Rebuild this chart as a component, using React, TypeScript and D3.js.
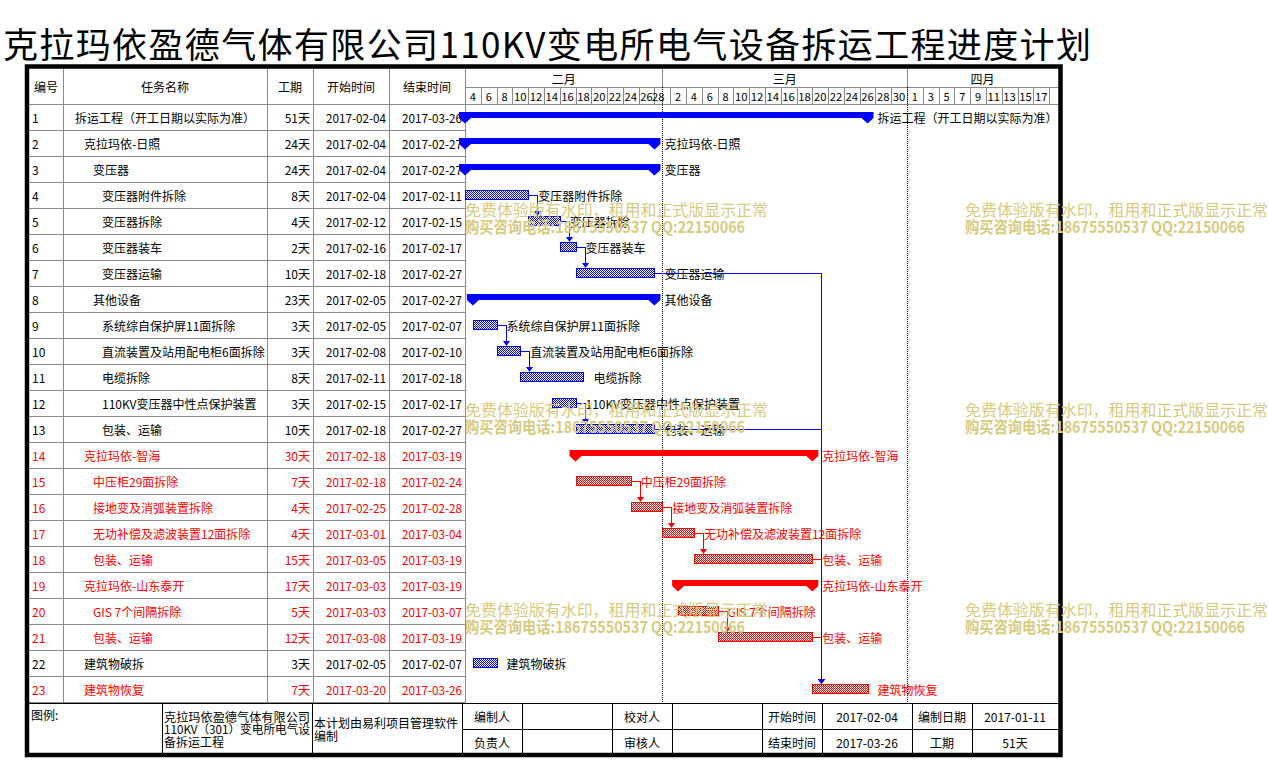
import React from 'react';
import * as d3 from 'd3';

const FONT = '"Noto Sans CJK SC","Noto Sans",sans-serif';

const titleText = '克拉玛依盈德气体有限公司110KV变电所电气设备拆运工程进度计划';
const tableHeaders = ['编号', '任务名称', '工期', '开始时间', '结束时间'];
const monthLabels = ['二月', '三月', '四月'];
const monthStarts = ['2017-02-01', '2017-03-01', '2017-04-01', '2017-05-01'];

const taskIds = [1, 2, 3, 4, 5, 6, 7, 8, 9, 10, 11, 12, 13, 14, 15, 16, 17, 18, 19, 20, 21, 22, 23];
const taskNames = [
  '拆运工程（开工日期以实际为准）',
  '克拉玛依-日照',
  '变压器',
  '变压器附件拆除',
  '变压器拆除',
  '变压器装车',
  '变压器运输',
  '其他设备',
  '系统综自保护屏11面拆除',
  '直流装置及站用配电柜6面拆除',
  '电缆拆除',
  '110KV变压器中性点保护装置',
  '包装、运输',
  '克拉玛依-智海',
  '中压柜29面拆除',
  '接地变及消弧装置拆除',
  '无功补偿及滤波装置12面拆除',
  '包装、运输',
  '克拉玛依-山东泰开',
  'GIS 7个间隔拆除',
  '包装、运输',
  '建筑物破拆',
  '建筑物恢复',
];
const taskLevels = [0, 1, 2, 3, 3, 3, 3, 2, 3, 3, 3, 3, 3, 1, 2, 2, 2, 2, 1, 2, 2, 1, 1];
const taskDurations = [51, 24, 24, 8, 4, 2, 10, 23, 3, 3, 8, 3, 10, 30, 7, 4, 4, 15, 17, 5, 12, 3, 7];
const taskStarts = [
  '2017-02-04', '2017-02-04', '2017-02-04', '2017-02-04', '2017-02-12', '2017-02-16', '2017-02-18',
  '2017-02-05', '2017-02-05', '2017-02-08', '2017-02-11', '2017-02-15', '2017-02-18',
  '2017-02-18', '2017-02-18', '2017-02-25', '2017-03-01', '2017-03-05',
  '2017-03-03', '2017-03-03', '2017-03-08', '2017-02-05', '2017-03-20',
];
const taskEnds = [
  '2017-03-26', '2017-02-27', '2017-02-27', '2017-02-11', '2017-02-15', '2017-02-17', '2017-02-27',
  '2017-02-27', '2017-02-07', '2017-02-10', '2017-02-18', '2017-02-17', '2017-02-27',
  '2017-03-19', '2017-02-24', '2017-02-28', '2017-03-04', '2017-03-19',
  '2017-03-19', '2017-03-07', '2017-03-19', '2017-02-07', '2017-03-26',
];
const summaryIds = [1, 2, 3, 8, 14, 19];
const redIds = [14, 15, 16, 17, 18, 19, 20, 21, 23];
const linkFrom = [4, 5, 6, 9, 10, 12, 15, 16, 17, 20, 18, 21, 7, 13];
const linkTo = [5, 6, 7, 10, 11, 13, 16, 17, 18, 21, 23, 23, 23, 23];

const footerLegend = '图例:';
const footerProject = ['克拉玛依盈德气体有限公司', '110KV（301）变电所电气设', '备拆运工程'];
const footerNote = ['本计划由易利项目管理软件', '编制'];
const footerRow1 = ['编制人', '', '校对人', '', '开始时间', '2017-02-04', '编制日期', '2017-01-11'];
const footerRow2 = ['负责人', '', '审核人', '', '结束时间', '2017-03-26', '工期', '51天'];

const watermark1 = '免费体验版有水印，租用和正式版显示正常';
const watermark2 = '购买咨询电话:18675550537 QQ:22150066';

const BLUE = '#0000FF';
const RED = '#FF0000';
const GRID = '#8a8a8a';
const WM = '#D8CA80';

export default function App() {
  const parse = d3.utcParse('%Y-%m-%d');
  const t0 = parse('2017-02-04') as Date;
  const tEnd = parse('2017-04-20') as Date;
  const x = d3.scaleUtc().domain([t0, tEnd]).range([465, 1057]);
  const rowY = d3.scaleLinear().domain([0, 23]).range([104, 702]);
  const endX = (s: string) => x(d3.utcDay.offset(parse(s) as Date, 1));
  const startX = (s: string) => x(parse(s) as Date);

  const X1 = 1058;
  const colX = [29, 63, 267, 313, 389, 465];

  const ticks = d3.utcDay.range(t0, tEnd, 2);
  const monthDates = monthStarts.map((m) => parse(m) as Date);

  const isRed = (id: number) => redIds.includes(id);
  const col = (id: number) => (isRed(id) ? RED : '#000');
  const barCol = (id: number) => (isRed(id) ? RED : BLUE);

  const textProps = { fontFamily: FONT, fontSize: 12, dominantBaseline: 'central' as const };

  const links = linkFrom.map((a, k) => {
    const b = linkTo[k];
    const px = endX(taskEnds[a - 1]);
    const py = rowY(a - 1) + 13;
    const sx = startX(taskStarts[b - 1]);
    const ax = Math.max(px, sx) + 9;
    const ty = rowY(b - 1) + 8;
    return { a, b, px, py, ax, ty, color: barCol(a) };
  });
  const orderedLinks = [...links.filter((l) => l.color === RED), ...links.filter((l) => l.color !== RED)];

  const footerCols = [462, 522, 612, 672, 762, 822, 912, 972, 1058];

  return (
    <svg width={1268} height={779} style={{ position: 'absolute', left: 0, top: 0, display: 'block', background: '#fff' }}>
      <defs>
        <pattern id="pBlue" width={2} height={2} patternUnits="userSpaceOnUse">
          <rect width={2} height={2} fill="#fff" />
          <rect width={1} height={1} fill={BLUE} />
          <rect x={1} y={1} width={1} height={1} fill={BLUE} />
        </pattern>
        <pattern id="pRed" width={2} height={2} patternUnits="userSpaceOnUse">
          <rect width={2} height={2} fill="#fff" />
          <rect width={1} height={1} fill={RED} />
          <rect x={1} y={1} width={1} height={1} fill={RED} />
        </pattern>
      </defs>
      <rect width={1268} height={779} fill="#fff" />

      {/* title */}
      <text x={3} y={42} fontFamily={FONT} fontSize={35} dominantBaseline="central" textLength={1088} lengthAdjust="spacing" fill="#000">
        {titleText}
      </text>

      {/* table grid */}
      <g shapeRendering="crispEdges" stroke={GRID} strokeWidth={1}>
        {colX.slice(1).map((cx) => (
          <line key={'c' + cx} x1={cx + 0.5} x2={cx + 0.5} y1={69} y2={703} />
        ))}
        {d3.range(0, 24).map((i) => (
          <line key={'r' + i} x1={29} x2={465} y1={rowY(i) + 0.5} y2={rowY(i) + 0.5} />
        ))}
        <line x1={465} x2={X1} y1={87.5} y2={87.5} />
        <line x1={465} x2={X1} y1={104.5} y2={104.5} />
        {monthDates.slice(1, 3).map((m, i) => (
          <line key={'m' + i} x1={Math.round(x(m)) + 0.5} x2={Math.round(x(m)) + 0.5} y1={69} y2={87} />
        ))}
        {ticks.slice(1).map((t, i) => (
          <line key={'t' + i} x1={Math.round(x(t)) + 0.5} x2={Math.round(x(t)) + 0.5} y1={87} y2={104} />
        ))}
      </g>

      {tableHeaders.map((h, i) => (
        <text key={'h' + i} x={(colX[i] + colX[i + 1]) / 2} y={86.5} textAnchor="middle" {...textProps} fill="#000">
          {h}
        </text>
      ))}

      {monthLabels.map((m, i) => {
        const a = x(monthDates[i] < t0 ? t0 : monthDates[i]);
        const b = Math.min(x(monthDates[i + 1]), X1);
        return (
          <text key={'ml' + i} x={(a + b) / 2} y={78} textAnchor="middle" {...textProps} fill="#000">
            {m}
          </text>
        );
      })}

      {ticks.map((t, i) => {
        const a = x(t);
        const nx = d3.utcDay.offset(t, 2);
        const nm = d3.utcMonth.ceil(d3.utcDay.offset(t, 1));
        const b = x(nx < nm ? nx : nm);
        if (x(nx) > X1) return null;
        const label = String(t.getUTCDate());
        return (
          <text key={'dl' + i} x={(a + b) / 2} y={96} textAnchor="middle" fontFamily={FONT} fontSize={11}
            dominantBaseline="central" fill="#000" textLength={label.length > 1 ? 12.5 : undefined} lengthAdjust="spacingAndGlyphs">
            {label}
          </text>
        );
      })}

      {taskIds.map((id, i) => {
        const cy = rowY(i) + 13;
        const c = col(id);
        return (
          <g key={'row' + id} fill={c}>
            <text x={32} y={cy} {...textProps}>{id}</text>
            <text x={75 + 9 * taskLevels[i]} y={cy} {...textProps}>{taskNames[i]}</text>
            <text x={310} y={cy} textAnchor="end" {...textProps}>{taskDurations[i] + '天'}</text>
            <text x={386} y={cy} textAnchor="end" {...textProps} textLength={60} lengthAdjust="spacingAndGlyphs">{taskStarts[i]}</text>
            <text x={462} y={cy} textAnchor="end" {...textProps} textLength={60} lengthAdjust="spacingAndGlyphs">{taskEnds[i]}</text>
          </g>
        );
      })}

      <g stroke="#000" strokeWidth={1} strokeDasharray="1,1" shapeRendering="crispEdges">
        {monthDates.slice(1, 3).map((m, i) => (
          <line key={'dot' + i} x1={Math.round(x(m)) + 0.5} x2={Math.round(x(m)) + 0.5} y1={87} y2={703} />
        ))}
      </g>

      <g>
        {orderedLinks.map((l, k) => (
          <g key={'lk' + k}>
            <path d={`M${l.px},${l.py + 0.5}H${Math.round(l.ax) + 0.5}V${l.ty - 4}`} fill="none" stroke={l.color} strokeWidth={1} shapeRendering="crispEdges" />
            <polygon points={`${Math.round(l.ax) - 3},${l.ty - 5} ${Math.round(l.ax) + 4},${l.ty - 5} ${Math.round(l.ax) + 0.5},${l.ty}`} fill={l.color} />
          </g>
        ))}
      </g>

      {taskIds.map((id, i) => {
        const top = rowY(i);
        const xs = startX(taskStarts[i]);
        const xe = endX(taskEnds[i]);
        const c = barCol(id);
        const tc = col(id);
        if (summaryIds.includes(id)) {
          const pts = [
            [xs - 6, top + 8], [xe + 6, top + 8], [xe + 6, top + 14], [xe, top + 19.5], [xe - 6, top + 14],
            [xs + 6, top + 14], [xs, top + 19.5], [xs - 6, top + 14],
          ];
          return (
            <g key={'bar' + id}>
              <polygon points={pts.map((p) => p.join(',')).join(' ')} fill={c} />
              <text x={xe + 10} y={top + 13} {...textProps} fill={tc}>{taskNames[i]}</text>
            </g>
          );
        }
        return (
          <g key={'bar' + id}>
            <rect x={Math.round(xs) + 0.5} y={top + 8.5} width={Math.round(xe) - Math.round(xs)} height={9} fill={isRed(id) ? 'url(#pRed)' : 'url(#pBlue)'} stroke={c} strokeWidth={1} shapeRendering="crispEdges" />
            <text x={xe + 10} y={top + 13} {...textProps} fill={tc}>{taskNames[i]}</text>
          </g>
        );
      })}

      <g shapeRendering="crispEdges" stroke="#000" strokeWidth={1}>
        <line x1={29} x2={X1} y1={703.5} y2={703.5} />
        <line x1={462} x2={X1} y1={729.5} y2={729.5} />
        {[162, 312, ...footerCols.slice(0, -1)].map((fx) => (
          <line key={'fc' + fx} x1={fx + 0.5} x2={fx + 0.5} y1={703} y2={754} />
        ))}
      </g>
      <text x={31} y={714} {...textProps} fill="#000">{footerLegend}</text>
      {footerProject.map((s, i) => (
        <text key={'fp' + i} x={164} y={716 + i * 12.5} {...textProps} fill="#000"
          textLength={i < 2 ? 146 : undefined} lengthAdjust="spacingAndGlyphs">{s}</text>
      ))}
      {footerNote.map((s, i) => (
        <text key={'fn' + i} x={314} y={722 + i * 13} {...textProps} fill="#000"
          textLength={i === 0 ? 144 : undefined} lengthAdjust="spacingAndGlyphs">{s}</text>
      ))}
      {footerRow1.map((s, i) => (
        <text key={'f1' + i} x={(footerCols[i] + footerCols[i + 1]) / 2} y={716.5} textAnchor="middle" {...textProps} fill="#000">{s}</text>
      ))}
      {footerRow2.map((s, i) => (
        <text key={'f2' + i} x={(footerCols[i] + footerCols[i + 1]) / 2} y={742} textAnchor="middle" {...textProps} fill="#000">{s}</text>
      ))}

      <rect x={27} y={66.5} width={1033.5} height={688.5} fill="none" stroke="#000" strokeWidth={4.5} />

      {[0, 200, 400].map((dy) =>
        [465, 965].map((wx) => (
          <g key={'wm' + dy + '-' + wx} fill={WM}>
            <text x={wx} y={209 + dy} fontFamily={FONT} fontSize={16} dominantBaseline="central" textLength={303} lengthAdjust="spacingAndGlyphs">{watermark1}</text>
            <text x={wx} y={226 + dy} fontFamily={FONT} fontSize={16} fontWeight="bold" dominantBaseline="central" textLength={280} lengthAdjust="spacingAndGlyphs">{watermark2}</text>
          </g>
        ))
      )}
    </svg>
  );
}
